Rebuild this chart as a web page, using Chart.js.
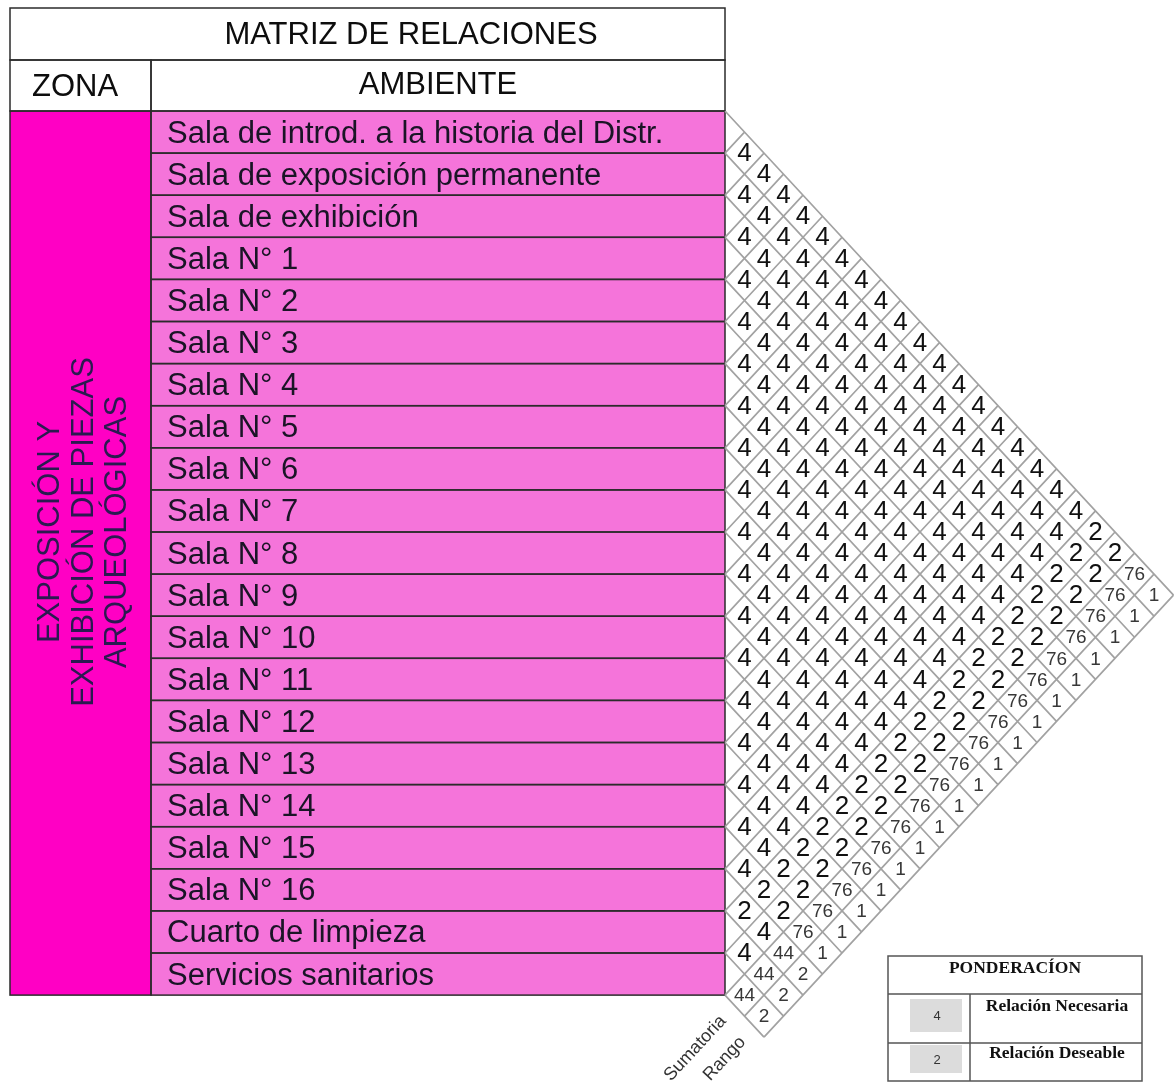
<!DOCTYPE html>
<html>
<head>
<meta charset="utf-8">
<script src="https://cdn.jsdelivr.net/npm/chart.js@4.4.0/dist/chart.umd.min.js"></script>
<style>
  html, body { margin: 0; padding: 0; background: #fff; }
  #wrap { position: relative; width: 1176px; height: 1086px; }
</style>
</head>
<body>
<div id="wrap"><canvas id="matriz"></canvas></div>
<script>
// --- DATOS ---
const titulo = 'MATRIZ DE RELACIONES';
const zonaLineas = ['EXPOSICIÓN Y', 'EXHIBICIÓN DE PIEZAS', 'ARQUEOLÓGICAS'];
const ambientes = [
    'Sala de introd. a la historia del Distr.',
    'Sala de exposición permanente',
    'Sala de exhibición',
    'Sala N° 1', 'Sala N° 2', 'Sala N° 3', 'Sala N° 4', 'Sala N° 5', 'Sala N° 6',
    'Sala N° 7', 'Sala N° 8', 'Sala N° 9', 'Sala N° 10', 'Sala N° 11', 'Sala N° 12',
    'Sala N° 13', 'Sala N° 14', 'Sala N° 15', 'Sala N° 16',
    'Cuarto de limpieza',
    'Servicios sanitarios'
];
// relaciones[i][k] = relación del ambiente i con el ambiente i+1+k
const relaciones = [
    [4,4,4,4,4,4,4,4,4,4,4,4,4,4,4,4,4,4,2,2],
    [4,4,4,4,4,4,4,4,4,4,4,4,4,4,4,4,4,2,2],
    [4,4,4,4,4,4,4,4,4,4,4,4,4,4,4,4,2,2],
    [4,4,4,4,4,4,4,4,4,4,4,4,4,4,4,2,2],
    [4,4,4,4,4,4,4,4,4,4,4,4,4,4,2,2],
    [4,4,4,4,4,4,4,4,4,4,4,4,4,2,2],
    [4,4,4,4,4,4,4,4,4,4,4,4,2,2],
    [4,4,4,4,4,4,4,4,4,4,4,2,2],
    [4,4,4,4,4,4,4,4,4,4,2,2],
    [4,4,4,4,4,4,4,4,4,2,2],
    [4,4,4,4,4,4,4,4,2,2],
    [4,4,4,4,4,4,4,2,2],
    [4,4,4,4,4,4,2,2],
    [4,4,4,4,4,2,2],
    [4,4,4,4,2,2],
    [4,4,4,2,2],
    [4,4,2,2],
    [4,2,2],
    [2,4],
    [4]
];
const sumatoria = [76,76,76,76,76,76,76,76,76,76,76,76,76,76,76,76,76,76,44,44,44];
const rango = [1,1,1,1,1,1,1,1,1,1,1,1,1,1,1,1,1,1,2,2,2];
const columnasExtra = ['Sumatoria', 'Rango'];
const pondTitulo = 'PONDERACÍON';
const pondValores = [4, 2];
const pondTextos = ['Relación Necesaria', 'Relación Deseable'];

// --- LAYOUT (px) ---
const W = 1176, H = 1086;
const MATRIZ_X = 725, ROMBO_W = 19.5;   // borde izq. de la matriz y medio ancho de rombo
const TABLA_Y = 111, FILA_H = 42.1;     // inicio de filas y alto de fila
const TABLA_X = 10, ZONA_X2 = 151;
const TITULO_Y = 8, CABECERA_Y = 60;
const FUENTE = '"Liberation Sans", Arial, sans-serif';
const SERIF = '"Liberation Serif", "Times New Roman", serif';

const nFilas = ambientes.length;

// puntos: x = j - i, y = (i + j + 1) / 2  (en unidades de fila)
const ptsRel = [], ptsSum = [], ptsRango = [];
relaciones.forEach((fila, i) => {
    fila.forEach((v, k) => {
        const j = i + 1 + k;
        ptsRel.push({ x: j - i, y: (i + j + 1) / 2, v: v });
    });
});
sumatoria.forEach((v, i) => ptsSum.push({ x: nFilas - i, y: (i + nFilas + 1) / 2, v: v }));
rango.forEach((v, i) => ptsRango.push({ x: nFilas + 1 - i, y: (i + nFilas + 2) / 2, v: v }));

const Matriz = {
    chart: null,

    // pixel de un vértice (a = fila i, b = fila j) en la rejilla girada
    punto: function(chart, a, b) {
        const xs = chart.scales.x, ys = chart.scales.y;
        return [xs.getPixelForValue(b - a), ys.getPixelForValue((a + b) / 2)];
    },

    dibujarTabla: function(chart) {
        const ctx = chart.ctx, ys = chart.scales.y;
        const yTop = ys.getPixelForValue(0), yBot = ys.getPixelForValue(nFilas);
        ctx.save();
        // zona
        ctx.fillStyle = '#ff00c4';
        ctx.fillRect(TABLA_X, yTop, ZONA_X2 - TABLA_X, yBot - yTop);
        // ambientes
        ctx.fillStyle = '#f574da';
        ctx.fillRect(ZONA_X2, yTop, MATRIZ_X - ZONA_X2, yBot - yTop);

        ctx.strokeStyle = '#2b2b2b';
        ctx.lineWidth = 1.5;
        ctx.strokeRect(TABLA_X, TITULO_Y, MATRIZ_X - TABLA_X, CABECERA_Y - TITULO_Y);
        ctx.strokeRect(TABLA_X, CABECERA_Y, ZONA_X2 - TABLA_X, yTop - CABECERA_Y);
        ctx.strokeRect(ZONA_X2, CABECERA_Y, MATRIZ_X - ZONA_X2, yTop - CABECERA_Y);
        ctx.strokeRect(TABLA_X, yTop, ZONA_X2 - TABLA_X, yBot - yTop);
        for (let i = 0; i < nFilas; i++) {
            const y1 = ys.getPixelForValue(i), y2 = ys.getPixelForValue(i + 1);
            ctx.strokeRect(ZONA_X2, y1, MATRIZ_X - ZONA_X2, y2 - y1);
        }

        // textos
        ctx.fillStyle = '#0d0d0d';
        ctx.font = '31px ' + FUENTE;
        ctx.textBaseline = 'middle';
        ctx.textAlign = 'center';
        ctx.fillText(titulo, 411, (TITULO_Y + CABECERA_Y) / 2 + 1);
        ctx.fillText('ZONA', 75, (CABECERA_Y + yTop) / 2 + 2);
        ctx.fillText('AMBIENTE', (ZONA_X2 + MATRIZ_X) / 2, (CABECERA_Y + yTop) / 2);

        ctx.fillStyle = '#1a1426';
        ctx.textAlign = 'left';
        ambientes.forEach((nombre, i) => {
            ctx.fillText(nombre, ZONA_X2 + 16, ys.getPixelForValue(i + 0.5) + 2);
        });

        // texto vertical de la zona
        ctx.fillStyle = '#2a1a50';
        ctx.textAlign = 'center';
        const cy = ys.getPixelForValue(10.0);
        const xsLinea = [50, 84, 117];
        zonaLineas.forEach((linea, k) => {
            ctx.save();
            ctx.translate(xsLinea[k], cy);
            ctx.rotate(-Math.PI / 2);
            ctx.fillText(linea, 0, 0);
            ctx.restore();
        });
        ctx.restore();
    },

    dibujarRejilla: function(chart) {
        const ctx = chart.ctx;
        const maxB = nFilas + 2;
        ctx.save();
        ctx.strokeStyle = '#a2a2a2';
        ctx.lineWidth = 1.7;
        ctx.beginPath();
        for (let k = 0; k <= nFilas; k++) {
            const p1 = this.punto(chart, k, k), p2 = this.punto(chart, k, maxB);
            ctx.moveTo(p1[0], p1[1]); ctx.lineTo(p2[0], p2[1]);
        }
        for (let k = 1; k <= maxB; k++) {
            const p1 = this.punto(chart, 0, k), p2 = this.punto(chart, Math.min(k, nFilas), k);
            ctx.moveTo(p1[0], p1[1]); ctx.lineTo(p2[0], p2[1]);
        }
        ctx.stroke();

        // etiquetas Sumatoria / Rango, en la prolongación de su columna
        ctx.fillStyle = '#333';
        ctx.font = '18px ' + FUENTE;
        ctx.textAlign = 'right';
        ctx.textBaseline = 'middle';
        columnasExtra.forEach((txt, k) => {
            const p = this.punto(chart, nFilas + 0.6, nFilas + k + 0.5);
            ctx.save();
            ctx.translate(p[0], p[1]);
            ctx.rotate(Math.atan2(-(FILA_H / 2), ROMBO_W));
            ctx.fillText(txt, 0, 0);
            ctx.restore();
        });
        ctx.restore();
    },

    dibujarValores: function(chart) {
        const ctx = chart.ctx;
        const estilos = [
            { font: '26px ' + FUENTE, color: '#111' },
            { font: '19px ' + FUENTE, color: '#383838' },
            { font: '19px ' + FUENTE, color: '#383838' }
        ];
        ctx.save();
        ctx.textAlign = 'center';
        ctx.textBaseline = 'middle';
        chart.data.datasets.forEach((ds, d) => {
            const meta = chart.getDatasetMeta(d);
            ctx.font = estilos[d].font;
            ctx.fillStyle = estilos[d].color;
            meta.data.forEach((el, k) => {
                ctx.fillText(String(ds.data[k].v), el.x, el.y + 1);
            });
        });
        ctx.restore();
    },

    dibujarLeyenda: function(chart) {
        const ctx = chart.ctx;
        const x1 = 888, x2 = 1142, xDiv = 970;
        const filas = [956, 994, 1043, 1081];
        ctx.save();
        ctx.strokeStyle = '#555';
        ctx.lineWidth = 1.5;
        ctx.strokeRect(x1, filas[0], x2 - x1, filas[3] - filas[0]);
        ctx.beginPath();
        ctx.moveTo(x1, filas[1]); ctx.lineTo(x2, filas[1]);
        ctx.moveTo(x1, filas[2]); ctx.lineTo(x2, filas[2]);
        ctx.moveTo(xDiv, filas[1]); ctx.lineTo(xDiv, filas[3]);
        ctx.stroke();

        ctx.fillStyle = '#111';
        ctx.font = 'bold 17.5px ' + SERIF;
        ctx.textAlign = 'center';
        ctx.textBaseline = 'middle';
        ctx.fillText(pondTitulo, (x1 + x2) / 2, 968);

        const cajas = [[999, 1032], [1045, 1073]];
        const textosY = [1006, 1053];
        pondValores.forEach((v, k) => {
            ctx.fillStyle = '#dcdcdc';
            ctx.fillRect(910, cajas[k][0], 52, cajas[k][1] - cajas[k][0]);
            ctx.fillStyle = '#333';
            ctx.font = '13px ' + FUENTE;
            ctx.textAlign = 'center';
            ctx.fillText(String(v), 937, (cajas[k][0] + cajas[k][1]) / 2 + 1);
            ctx.fillStyle = '#111';
            ctx.font = 'bold 17.5px ' + SERIF;
            ctx.fillText(pondTextos[k], (xDiv + x2) / 2 + 1, textosY[k]);
        });
        ctx.restore();
    },

    init: function() {
        const ctx = document.getElementById('matriz').getContext('2d');
        const self = this;
        const plugin = {
            id: 'matrizRelaciones',
            beforeDatasetsDraw: function(chart) {
                self.dibujarTabla(chart);
                self.dibujarRejilla(chart);
            },
            afterDatasetsDraw: function(chart) {
                self.dibujarValores(chart);
                self.dibujarLeyenda(chart);
            }
        };

        this.chart = new Chart(ctx, {
            type: 'scatter',
            data: {
                datasets: [
                    { label: 'Relación', data: ptsRel, pointRadius: 0 },
                    { label: 'Sumatoria', data: ptsSum, pointRadius: 0 },
                    { label: 'Rango', data: ptsRango, pointRadius: 0 }
                ]
            },
            options: {
                responsive: true,
                maintainAspectRatio: false,
                animation: false,
                events: [],
                layout: { padding: 0 },
                plugins: { legend: { display: false }, tooltip: { enabled: false } },
                scales: {
                    x: { type: 'linear', display: false, min: -MATRIZ_X / ROMBO_W, max: (W - MATRIZ_X) / ROMBO_W },
                    y: { type: 'linear', display: false, reverse: true, min: -TABLA_Y / FILA_H, max: (H - TABLA_Y) / FILA_H }
                }
            },
            plugins: [plugin]
        });
    }
};

document.addEventListener('DOMContentLoaded', () => Matriz.init());
</script>
</body>
</html>
